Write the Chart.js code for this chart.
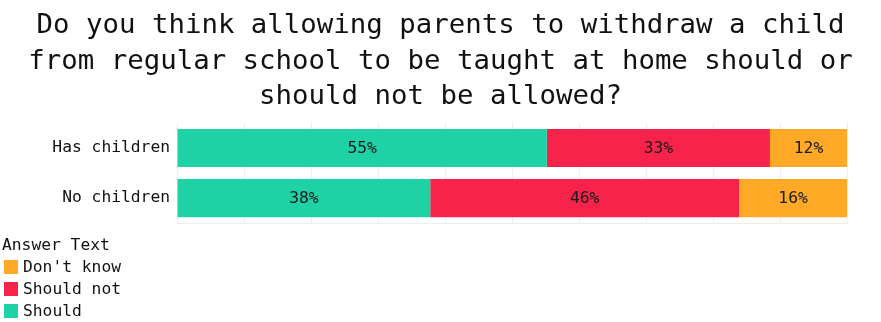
<!DOCTYPE html>
<html>
<head>
<meta charset="utf-8">
<script src="https://cdn.jsdelivr.net/npm/chart.js@4/dist/chart.umd.min.js"></script>
<style>
  html, body { margin: 0; padding: 0; background: #fff; }
  #wrap { position: relative; width: 881px; height: 240px; }
  #legend { position: absolute; left: 2px; top: 234px; font-family: 'DejaVu Sans Mono', monospace; font-size: 16.3px; color: #111; }
  #legend .ttl { height: 22px; line-height: 22px; }
  #legend .item { height: 22px; line-height: 22px; display: flex; align-items: center; }
  #legend .box { width: 14px; height: 14px; margin-left: 2px; margin-right: 5px; }
</style>
</head>
<body>
<div id="wrap"><canvas id="c"></canvas></div>
<div id="legend"></div>
<script>
const titleLines = [
  "Do you think allowing parents to withdraw a child",
  "from regular school to be taught at home should or",
  "should not be allowed?"
];
const categories = ["Has children", "No children"];
const seriesNames = ["Should", "Should not", "Don't know"];
const shouldVals = [55.2, 37.8];
const shouldNotVals = [33.3, 46.1];
const dontKnowVals = [11.5, 16.1];
const colors = ["#1ED2A6", "#F8234A", "#FFA927"];
const legendTitle = "Answer Text";

const font = "'DejaVu Sans Mono', monospace";

const barLabels = {
  id: 'barLabels',
  afterDatasetsDraw(chart) {
    const ctx = chart.ctx;
    ctx.save();
    ctx.font = "16.3px " + font;
    ctx.fillStyle = "#1a1a1a";
    ctx.textAlign = "center";
    ctx.textBaseline = "middle";
    chart.data.datasets.forEach((ds, di) => {
      const meta = chart.getDatasetMeta(di);
      meta.data.forEach((bar, i) => {
        const v = ds.data[i];
        const x = (bar.x + bar.base) / 2;
        ctx.fillText(Math.round(v) + "%", x, bar.y + 1);
      });
    });
    ctx.restore();
  }
};

const chart = new Chart(document.getElementById('c'), {
  type: 'bar',
  data: {
    labels: categories,
    datasets: [
      { label: seriesNames[0], data: shouldVals, backgroundColor: colors[0] },
      { label: seriesNames[1], data: shouldNotVals, backgroundColor: colors[1] },
      { label: seriesNames[2], data: dontKnowVals, backgroundColor: colors[2] }
    ]
  },
  options: {
    indexAxis: 'y',
    responsive: true,
    maintainAspectRatio: false,
    animation: false,
    layout: { padding: { left: 0, right: 0, top: 4, bottom: 0 } },
    datasets: { bar: { barPercentage: 0.76, categoryPercentage: 1.0, borderWidth: 0 } },
    plugins: {
      legend: { display: false },
      tooltip: { enabled: false },
      title: {
        display: true,
        text: titleLines,
        color: '#111',
        font: { family: font, size: 27.4, weight: 'normal', lineHeight: 1.3 },
        padding: { top: 4, bottom: 8 }
      }
    },
    scales: {
      x: {
        stacked: true,
        min: 0, max: 100,
        ticks: { display: false, stepSize: 10 },
        grid: { color: '#eeeeee', tickLength: 0, drawTicks: false },
        border: { display: true, color: '#eeeeee' }
      },
      y: {
        stacked: true,
        grid: { display: false, drawTicks: false, tickLength: 0 },
        border: { display: false },
        ticks: { color: '#111', font: { family: font, size: 16.3 }, padding: 7 },
        afterFit(scale) { scale.width = 177; }
      },
      yRight: {
        type: 'category',
        labels: categories,
        position: 'right',
        grid: { display: false },
        border: { display: false },
        ticks: { display: false },
        afterFit(scale) { scale.width = 34; }
      }
    }
  },
  plugins: [barLabels]
});

const leg = document.getElementById('legend');
const t = document.createElement('div');
t.className = 'ttl';
t.textContent = legendTitle;
leg.appendChild(t);
for (let i = seriesNames.length - 1; i >= 0; i--) {
  const it = document.createElement('div');
  it.className = 'item';
  const b = document.createElement('span');
  b.className = 'box';
  b.style.background = colors[i];
  const s = document.createElement('span');
  s.textContent = seriesNames[i];
  it.appendChild(b);
  it.appendChild(s);
  leg.appendChild(it);
}
</script>
</body>
</html>
